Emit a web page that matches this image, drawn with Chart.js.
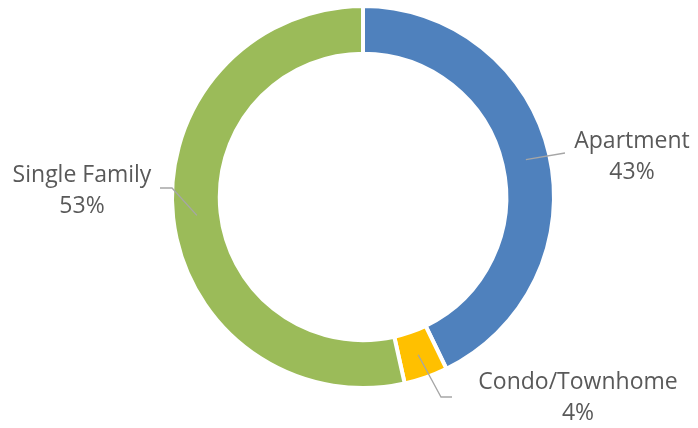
<!DOCTYPE html>
<html>
<head>
<meta charset="utf-8">
<script src="https://cdn.jsdelivr.net/npm/chart.js@4"></script>
<style>
  html, body { margin: 0; padding: 0; background: #fff; }
  #wrap { width: 698px; height: 428px; }
</style>
</head>
<body>
<div id="wrap"><canvas id="chart"></canvas></div>
<script>
const categories = ['Apartment', 'Condo/Townhome', 'Single Family']
const shares = [42.8, 3.7, 53.5]
const percentLabels = ['43%', '4%', '53%']
const colors = ['#4F81BD', '#FFC000', '#9BBB59']

// where each label sits and how its leader line bends (layout only)
const labelLayout = [
  { x: 632, y: 157, elbow: [[565, 153]] },
  { x: 578, y: 398, elbow: [[441, 397], [452, 397]] },
  { x: 82, y: 191, elbow: [[172, 188], [160, 188]] },
]

const leaderLabels = {
  id: 'leaderLabels',
  afterDatasetsDraw(chart) {
    const ctx = chart.ctx
    const meta = chart.getDatasetMeta(0)
    ctx.save()
    meta.data.forEach((arc, i) => {
      const p = arc.getProps(['x', 'y', 'startAngle', 'endAngle', 'innerRadius', 'outerRadius'], true)
      const mid = (p.startAngle + p.endAngle) / 2
      const r = (p.innerRadius + p.outerRadius) / 2
      const ax = p.x + Math.cos(mid) * r
      const ay = p.y + Math.sin(mid) * r
      const lay = labelLayout[i]

      ctx.strokeStyle = '#A6A6A6'
      ctx.lineWidth = 1.3
      ctx.beginPath()
      ctx.moveTo(ax, ay)
      lay.elbow.forEach((pt) => ctx.lineTo(pt[0], pt[1]))
      ctx.stroke()

      ctx.fillStyle = '#595959'
      ctx.font = '23px "Open Sans"'
      ctx.textAlign = 'center'
      ctx.textBaseline = 'middle'
      ctx.fillText(categories[i], lay.x, lay.y - 16)
      ctx.fillText(percentLabels[i], lay.x, lay.y + 15)
    })
    ctx.restore()
  },
}

new Chart(document.getElementById('chart'), {
  type: 'doughnut',
  data: {
    labels: categories,
    datasets: [
      {
        data: shares,
        backgroundColor: colors,
        borderColor: '#FFFFFF',
        borderWidth: 4,
      },
    ],
  },
  options: {
    responsive: true,
    maintainAspectRatio: false,
    animation: false,
    cutout: '75%',
    layout: {
      padding: { left: 170, right: 142, top: 4, bottom: 38 },
    },
    plugins: {
      legend: { display: false },
      tooltip: { enabled: false },
    },
  },
  plugins: [leaderLabels],
})
</script>
</body>
</html>
